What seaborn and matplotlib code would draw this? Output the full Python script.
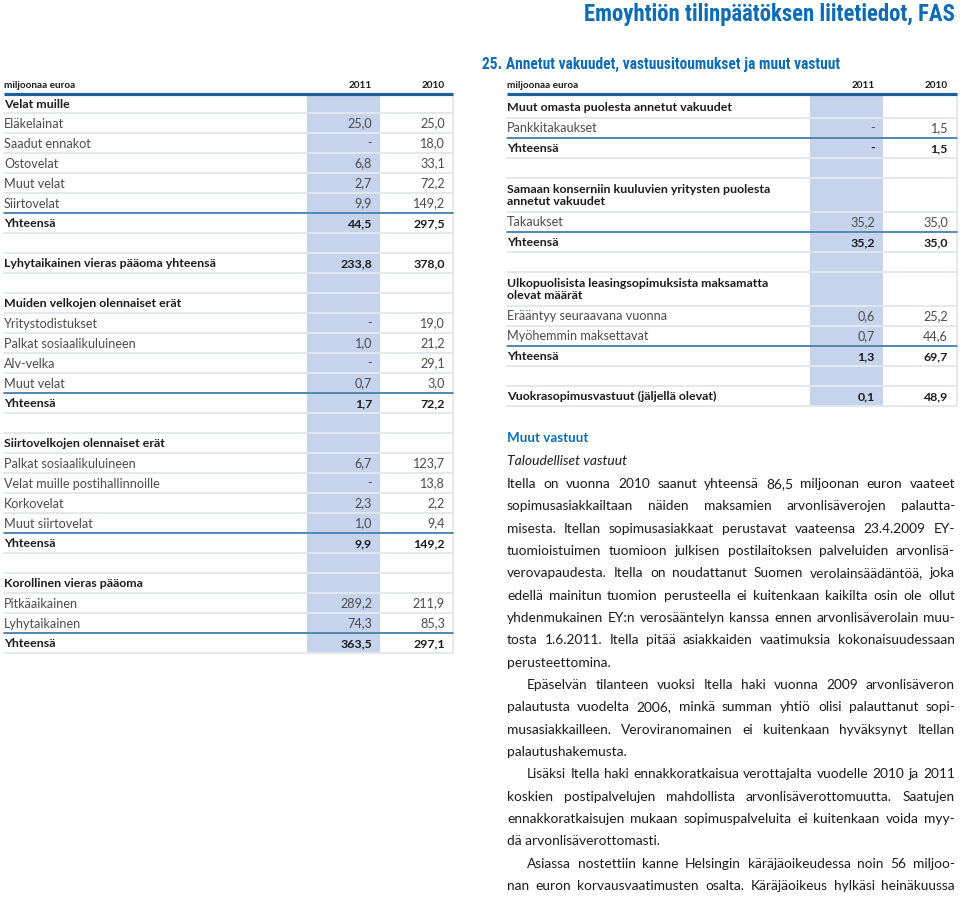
import matplotlib
matplotlib.use("Agg")
import matplotlib.pyplot as plt
from matplotlib.patches import Rectangle
from matplotlib import font_manager as fm
import seaborn as sns

# ---------------- data ----------------
title_text = "Emoyhtiön tilinpäätöksen liitetiedot, FAS"
section_text = "25. Annetut vakuudet, vastuusitoumukset ja muut vastuut"
unit_label = "miljoonaa euroa"
year_cols = ["2011", "2010"]

left_labels = [
    "Velat muille", "Eläkelainat", "Saadut ennakot", "Ostovelat", "Muut velat",
    "Siirtovelat", "Yhteensä", "", "Lyhytaikainen vieras pääoma yhteensä", "",
    "Muiden velkojen olennaiset erät", "Yritystodistukset", "Palkat sosiaalikuluineen",
    "Alv-velka", "Muut velat", "Yhteensä", "", "Siirtovelkojen olennaiset erät",
    "Palkat sosiaalikuluineen", "Velat muille postihallinnoille", "Korkovelat",
    "Muut siirtovelat", "Yhteensä", "", "Korollinen vieras pääoma", "Pitkäaikainen",
    "Lyhytaikainen", "Yhteensä",
]
left_kinds = [
    "head", "item", "item", "item", "item", "item", "total", "blank", "bold", "blank",
    "head", "item", "item", "item", "item", "total", "blank", "head",
    "item", "item", "item", "item", "total", "blank", "head", "item", "item", "total",
]
left_2011 = [None, 25.0, "-", 6.8, 2.7, 9.9, 44.5, None, 233.8, None,
             None, "-", 1.0, "-", 0.7, 1.7, None, None,
             6.7, "-", 2.3, 1.0, 9.9, None, None, 289.2, 74.3, 363.5]
left_2010 = [None, 25.0, 18.0, 33.1, 72.2, 149.2, 297.5, None, 378.0, None,
             None, 19.0, 21.2, 29.1, 3.0, 72.2, None, None,
             123.7, 13.8, 2.2, 9.4, 149.2, None, None, 211.9, 85.3, 297.1]

right_labels = [
    "Muut omasta puolesta annetut vakuudet", "Pankkitakaukset", "Yhteensä", "",
    "Samaan konserniin kuuluvien yritysten puolesta\nannetut vakuudet",
    "Takaukset", "Yhteensä", "",
    "Ulkopuolisista leasingsopimuksista maksamatta\nolevat määrät",
    "Erääntyy seuraavana vuonna", "Myöhemmin maksettavat", "Yhteensä", "",
    "Vuokrasopimusvastuut (jäljellä olevat)",
]
right_kinds = ["head", "item", "total", "blank", "head2", "item", "total", "blank",
               "head2", "item", "item", "total", "blank", "bold"]
right_2011 = [None, "-", "-", None, None, 35.2, 35.2, None, None, 0.6, 0.7, 1.3, None, 0.1]
right_2010 = [None, 1.5, 1.5, None, None, 35.0, 35.0, None, None, 25.2, 44.6, 69.7, None, 48.9]

subhead_text = "Muut vastuut"
italic_text = "Taloudelliset vastuut"
para_lines = [
    "Itella on vuonna 2010 saanut yhteensä 86,5 miljoonan euron vaateet",
    "sopimusasiakkailtaan näiden maksamien arvonlisäverojen palautta-",
    "misesta. Itellan sopimusasiakkaat perustavat vaateensa 23.4.2009 EY-",
    "tuomioistuimen tuomioon julkisen postilaitoksen palveluiden arvonlisä-",
    "verovapaudesta. Itella on noudattanut Suomen verolainsäädäntöä, joka",
    "edellä mainitun tuomion perusteella ei kuitenkaan kaikilta osin ole ollut",
    "yhdenmukainen EY:n verosääntelyn kanssa ennen arvonlisäverolain muu-",
    "tosta 1.6.2011. Itella pitää asiakkaiden vaatimuksia kokonaisuudessaan",
    "perusteettomina.",
    "Epäselvän tilanteen vuoksi Itella haki vuonna 2009 arvonlisäveron",
    "palautusta vuodelta 2006, minkä summan yhtiö olisi palauttanut sopi-",
    "musasiakkailleen. Veroviranomainen ei kuitenkaan hyväksynyt Itellan",
    "palautushakemusta.",
    "Lisäksi Itella haki ennakkoratkaisua verottajalta vuodelle 2010 ja 2011",
    "koskien postipalvelujen mahdollista arvonlisäverottomuutta. Saatujen",
    "ennakkoratkaisujen mukaan sopimuspalveluita ei kuitenkaan voida myy-",
    "dä arvonlisäverottomasti.",
    "Asiassa nostettiin kanne Helsingin käräjäoikeudessa noin 56 miljoo-",
    "nan euron korvausvaatimusten osalta. Käräjäoikeus hylkäsi heinäkuussa",
]
para_indent = [0, 0, 0, 0, 0, 0, 0, 0, 0, 1, 0, 0, 0, 1, 0, 0, 0, 1, 0]
para_last = [0, 0, 0, 0, 0, 0, 0, 0, 1, 0, 0, 0, 1, 0, 0, 0, 1, 0, 0]

# ---------------- style ----------------
sns.set_theme(style="white")
names = {f.name for f in fm.fontManager.ttflist}


def pick(cands, default="DejaVu Sans"):
    for c in cands:
        if c in names:
            return c
    return default


BODY = pick(["Lato", "Noto Sans", "Open Sans"])
COND = pick(["Roboto Condensed", "Liberation Sans Narrow", "Open Sans Condensed",
             "Noto Sans Condensed", "DejaVu Sans Condensed", "Roboto"])
plt.rcParams["font.family"] = [BODY, "DejaVu Sans"]

BLUE = "#0f6cb3"
LINE_BLUE = "#1d5f9f"
TOT_BLUE = "#2b6ea3"
SHADE = "#c6d3ec"
SEP = "#e3e8ee"
TXT = "#4c4c4c"
TXT_B = "#1c1c1c"

W, H = 960, 897
fig = plt.figure(figsize=(W / 100, H / 100), dpi=100)
ax = fig.add_axes([0, 0, 1, 1])
ax.set_xlim(0, W)
ax.set_ylim(H, 0)
ax.axis("off")
R = fig.canvas.get_renderer()


def text_w(s, **kw):
    t = ax.text(0, 0, s, **kw)
    w = t.get_window_extent(renderer=R).width
    t.remove()
    return w


def fit(s, target, **kw):
    return 10.0 * target / text_w(s, fontsize=10.0, **kw)


fs_reg = fit("Velat muille postihallinnoille", 155, family=BODY)
fs_bold = fit("Lyhytaikainen vieras pääoma yhteensä", 213, family=BODY, weight="bold")
fs_hdr = fit(unit_label, 71, family=BODY, weight="bold")
fs_title = fit(title_text, 373, family=COND, weight="bold")
fs_sec = fit(section_text, 359, family=COND, weight="bold")
fs_sub = fit(subhead_text, 81, family=BODY, weight="bold")
fs_ital = fit(italic_text, 120, family=BODY, style="italic")

# paragraph: natural-width lines must fit in the column
PX0, PX1, PY0, PDY, IND = 507, 955, 484, 22.33, 20
fs_par = fit("palautushakemusta.", 125, family=BODY)
for line, ind, last in zip(para_lines, para_indent, para_last):
    avail = (PX1 - PX0 - (IND if ind else 0)) * 0.985
    fs_par = min(fs_par, fit(line, avail, family=BODY))


def fmt(v):
    if v is None:
        return ""
    if isinstance(v, str):
        return v
    return f"{v:.1f}".replace(".", ",")


def draw_table(x0, xs0, xs1, x1, vx11, vx10, top, heights, labels, kinds, v11, v10):
    total_h = sum(heights)
    ax.text(x0, 85, unit_label, fontsize=fs_hdr, weight="bold", color=TXT_B, va="center")
    ax.text(vx11, 85, year_cols[0], fontsize=fs_hdr, weight="bold", color=TXT_B,
            va="center", ha="right")
    ax.text(vx10, 85, year_cols[1], fontsize=fs_hdr, weight="bold", color=TXT_B,
            va="center", ha="right")
    ax.plot([x0, x1], [top - 1.5, top - 1.5], color=LINE_BLUE, lw=2.3,
            solid_capstyle="butt", zorder=4)
    ax.add_patch(Rectangle((xs0, top), xs1 - xs0, total_h, facecolor=SHADE,
                           lw=0, zorder=1))
    ax.plot([x1, x1], [top, top + total_h], color=SEP, lw=1.2, zorder=2)
    y = top
    for lab, kind, a, b, h in zip(labels, kinds, v11, v10, heights):
        yc = y + h / 2
        ax.plot([x0, x1], [y + h, y + h], color=SEP, lw=1.4, zorder=2)
        if kind == "total":
            ax.plot([x0, x1], [y, y], color=TOT_BLUE, lw=1.1, zorder=3)
        bold = kind in ("head", "head2", "total", "bold")
        fs = fs_bold if bold else fs_reg
        col = TXT_B if bold else TXT
        wt = "bold" if bold else "normal"
        if lab:
            ax.text(x0, yc + 0.5, lab, fontsize=fs, weight=wt, color=col, va="center",
                    ha="left", linespacing=1.05, zorder=5)
        for v, vx in ((a, vx11), (b, vx10)):
            s = fmt(v)
            if s:
                ax.text(vx, yc + 0.5, s, fontsize=fs, weight=wt, color=col,
                        va="center", ha="right", zorder=5)
        y += h


left_heights = [17] + [20] * (len(left_labels) - 1)
draw_table(4, 307, 380, 453, 372, 445, 96, left_heights,
           left_labels, left_kinds, left_2011, left_2010)

right_heights = [22 if k == "head" and i == 0 else (34 if k == "head2" else 20)
                 for i, k in enumerate(right_kinds)]
draw_table(507, 810, 883, 957, 875, 948, 96, right_heights,
           right_labels, right_kinds, right_2011, right_2010)

# titles
ax.text(955, 14, title_text, family=[COND, "DejaVu Sans"], fontsize=fs_title,
        weight="bold", color=BLUE, ha="right", va="center")
ax.text(482, 64, section_text, family=[COND, "DejaVu Sans"], fontsize=fs_sec,
        weight="bold", color=BLUE, ha="left", va="center")
ax.text(507, 438, subhead_text, fontsize=fs_sub, weight="bold", color=BLUE,
        ha="left", va="center")
ax.text(507, 461, italic_text, fontsize=fs_ital, style="italic", color=TXT_B,
        ha="left", va="center")

# justified paragraph
space_w = text_w("a a", fontsize=fs_par) - text_w("aa", fontsize=fs_par)
for i, (line, ind, last) in enumerate(zip(para_lines, para_indent, para_last)):
    y = PY0 + i * PDY
    x = PX0 + (IND if ind else 0)
    words = line.split(" ")
    if last or len(words) == 1:
        ax.text(x, y, line, fontsize=fs_par, color=TXT_B, ha="left", va="center")
        continue
    widths = [text_w(w_, fontsize=fs_par) for w_ in words]
    gap = (PX1 - x - sum(widths)) / (len(words) - 1)
    gap = max(gap, space_w * 0.6)
    for w_, wd in zip(words, widths):
        ax.text(x, y, w_, fontsize=fs_par, color=TXT_B, ha="left", va="center")
        x += wd + gap

fig.savefig("out.png", dpi=100)
